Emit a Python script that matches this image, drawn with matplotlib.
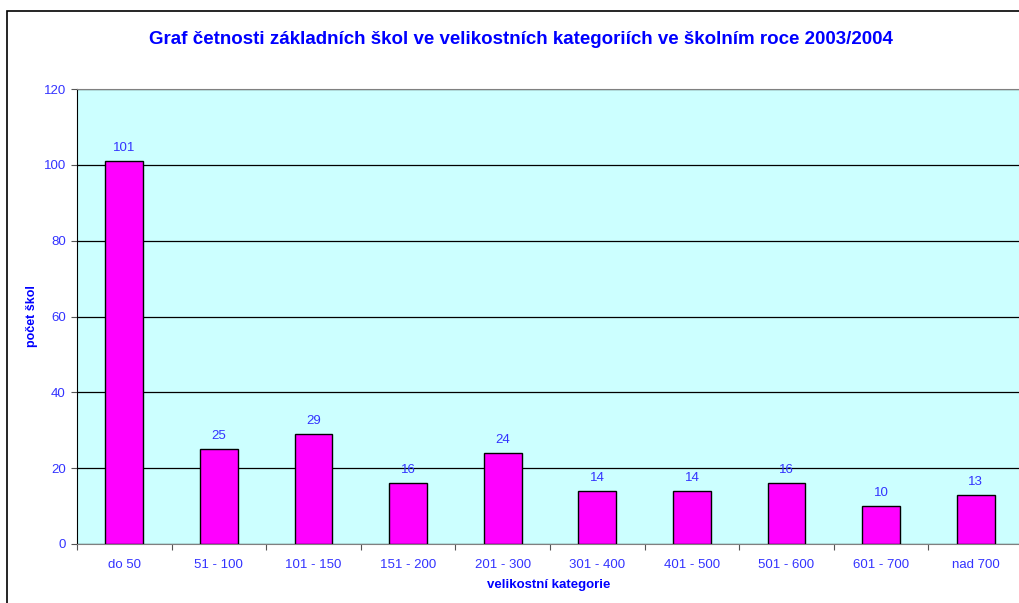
import matplotlib
matplotlib.use("Agg")
import matplotlib.pyplot as plt
from matplotlib.patches import Rectangle

plt.rcParams['font.family'] = ['Liberation Sans', 'DejaVu Sans']

categories = ["do 50", "51 - 100", "101 - 150", "151 - 200", "201 - 300",
              "301 - 400", "401 - 500", "501 - 600", "601 - 700", "nad 700"]
counts = [101, 25, 29, 16, 24, 14, 14, 16, 10, 13]
yticks = [0, 20, 40, 60, 80, 100, 120]

TITLE = "Graf četnosti základních škol ve velikostních kategoriích ve školním roce 2003/2004"
BLUE = "#0000FF"
LBLUE = "#3333FF"

fig = plt.figure(figsize=(10.19, 6.03), dpi=100)
# outer chart border (runs off the right and bottom of the image)
fig.patches.append(Rectangle((7 / 1019, -0.05), 1.2, 1 - 11 / 603 + 0.05,
                             transform=fig.transFigure, fill=False,
                             edgecolor="black", lw=1.2))

ax = fig.add_axes([77 / 1019, 59 / 603, 946 / 1019, 455 / 603])
ax.set_facecolor("#CCFFFF")

x = list(range(len(categories)))
ax.bar(x, counts, width=0.4, color="#FF00FF", edgecolor="black", lw=1.0, zorder=3)
for xi, v in zip(x, counts):
    ax.annotate(str(v), (xi, v), xytext=(0, 5), textcoords="offset points",
                ha="center", va="bottom", fontsize=9.5, color=LBLUE)

ax.set_xlim(-0.5, len(categories) - 0.5)
ax.set_ylim(0, 120)
ax.set_yticks(yticks)
ax.set_yticklabels([str(t) for t in yticks])
ax.yaxis.grid(True, color="black", lw=0.9)
ax.set_axisbelow(True)

# ticks at category boundaries, labels at centres
ax.set_xticks([i - 0.5 for i in range(len(categories) + 1)])
ax.set_xticklabels([])
ax.set_xticks(x, minor=True)
ax.set_xticklabels(categories, minor=True)
ax.tick_params(axis="x", which="major", length=4, color="#555555", direction="out")
ax.tick_params(axis="x", which="minor", length=0, pad=11, labelsize=9.5, labelcolor=LBLUE)
ax.tick_params(axis="y", length=4, color="#555555", pad=4, labelsize=9.5, labelcolor=LBLUE)

for s in ("top", "right", "bottom"):
    ax.spines[s].set_color("#808080")
ax.spines["left"].set_color("black")

fig.text(32 / 1019, 1 - 316 / 603, "počet škol", rotation=90, ha="center", va="center",
         fontsize=9, fontweight="bold", color=BLUE)
fig.text(549 / 1019, 1 - 585 / 603, "velikostní kategorie", ha="center", va="center",
         fontsize=9.5, fontweight="bold", color=BLUE)
fig.text(521 / 1019, 1 - 40 / 603, TITLE, ha="center", va="center",
         fontsize=13.5, fontweight="bold", color=BLUE)

fig.savefig("out.png", dpi=100)
